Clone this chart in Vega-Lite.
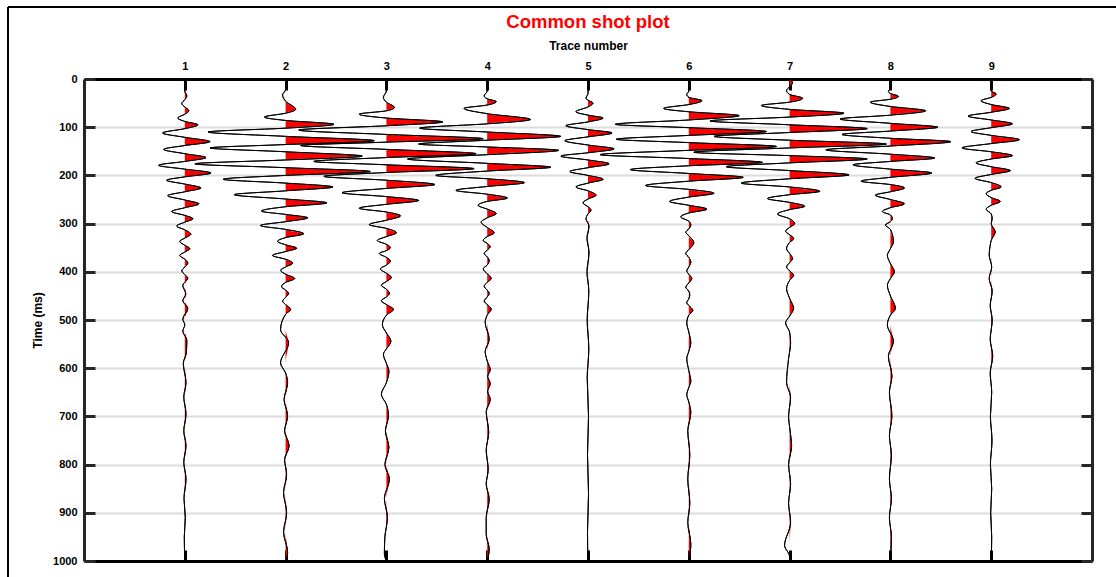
{
  "$schema": "https://vega.github.io/schema/vega-lite/v6.json",
  "width": 1008,
  "height": 482,
  "autosize": {"type": "none"},
  "padding": {"left": 84, "top": 79, "right": 24, "bottom": 16},
  "background": "white",
  "title": {"text": "Common shot plot", "color": "#ff0000", "font": "Liberation Sans", "fontSize": 18.5, "fontWeight": "bold", "anchor": "middle", "offset": -26},
  "config": {
    "view": {"stroke": null},
    "axis": {"labelFont": "Liberation Sans", "titleFont": "Liberation Sans", "labelFontWeight": "bold", "titleFontWeight": "bold", "labelFontSize": 11, "titleFontSize": 12, "labelColor": "black", "titleColor": "black"}
  },
  "datasets": {
    "traces": [
      {"tr":1,"t":0,"a":0},{"tr":1,"t":25,"a":0},{"tr":1,"t":35,"a":0.02},{"tr":1,"t":43,"a":0},{"tr":1,"t":51,"a":-0.03},{"tr":1,"t":58,"a":0},{"tr":1,"t":66,"a":0.04},{"tr":1,"t":73,"a":0},{"tr":1,"t":81,"a":-0.07},{"tr":1,"t":88,"a":0},{"tr":1,"t":95,"a":0.13},{"tr":1,"t":103,"a":0},{"tr":1,"t":112,"a":-0.22},{"tr":1,"t":121,"a":0},{"tr":1,"t":130,"a":0.25},{"tr":1,"t":138,"a":0},{"tr":1,"t":146,"a":-0.21},{"tr":1,"t":155,"a":0},{"tr":1,"t":163,"a":0.21},{"tr":1,"t":171,"a":0},{"tr":1,"t":179,"a":-0.26},{"tr":1,"t":187,"a":0},{"tr":1,"t":195,"a":0.26},{"tr":1,"t":203,"a":0},{"tr":1,"t":210,"a":-0.18},{"tr":1,"t":218,"a":0},{"tr":1,"t":226,"a":0.16},{"tr":1,"t":234,"a":0},{"tr":1,"t":242,"a":-0.17},{"tr":1,"t":251,"a":0},{"tr":1,"t":259,"a":0.14},{"tr":1,"t":267,"a":0},{"tr":1,"t":275,"a":-0.13},{"tr":1,"t":283,"a":0},{"tr":1,"t":290,"a":0.08},{"tr":1,"t":297,"a":0},{"tr":1,"t":305,"a":-0.08},{"tr":1,"t":313,"a":0},{"tr":1,"t":322,"a":0.06},{"tr":1,"t":330,"a":0},{"tr":1,"t":337,"a":-0.05},{"tr":1,"t":345,"a":0},{"tr":1,"t":352,"a":0.05},{"tr":1,"t":359,"a":0},{"tr":1,"t":366,"a":-0.05},{"tr":1,"t":374,"a":0},{"tr":1,"t":382,"a":0.03},{"tr":1,"t":390,"a":0},{"tr":1,"t":398,"a":-0.03},{"tr":1,"t":406,"a":0},{"tr":1,"t":413,"a":0.03},{"tr":1,"t":428,"a":-0.02},{"tr":1,"t":446,"a":0.01},{"tr":1,"t":460,"a":-0.02},{"tr":1,"t":476,"a":0.03},{"tr":1,"t":498,"a":-0.02},{"tr":1,"t":510,"a":0},{"tr":1,"t":523,"a":-0.02},{"tr":1,"t":542,"a":0.02},{"tr":1,"t":568,"a":0.015},{"tr":1,"t":590,"a":-0.015},{"tr":1,"t":630,"a":0.012},{"tr":1,"t":660,"a":-0.01},{"tr":1,"t":695,"a":0.012},{"tr":1,"t":730,"a":-0.01},{"tr":1,"t":761,"a":0.012},{"tr":1,"t":795,"a":-0.01},{"tr":1,"t":830,"a":0.012},{"tr":1,"t":870,"a":-0.008},{"tr":1,"t":910,"a":0.005},{"tr":1,"t":950,"a":-0.005},{"tr":1,"t":1000,"a":0},

      {"tr":2,"t":0,"a":0},{"tr":2,"t":22,"a":0},{"tr":2,"t":33,"a":-0.03},{"tr":2,"t":46,"a":0},{"tr":2,"t":63,"a":0.1},{"tr":2,"t":71,"a":0},{"tr":2,"t":79,"a":-0.21},{"tr":2,"t":86,"a":0},{"tr":2,"t":94,"a":0.48},{"tr":2,"t":102,"a":0},{"tr":2,"t":110,"a":-0.77},{"tr":2,"t":119,"a":0},{"tr":2,"t":128,"a":0.88},{"tr":2,"t":136,"a":0},{"tr":2,"t":143,"a":-0.75},{"tr":2,"t":151,"a":0},{"tr":2,"t":160,"a":0.76},{"tr":2,"t":168,"a":0},{"tr":2,"t":176,"a":-0.9},{"tr":2,"t":184,"a":0},{"tr":2,"t":192,"a":0.84},{"tr":2,"t":200,"a":0},{"tr":2,"t":208,"a":-0.62},{"tr":2,"t":216,"a":0},{"tr":2,"t":224,"a":0.47},{"tr":2,"t":232,"a":0},{"tr":2,"t":240,"a":-0.51},{"tr":2,"t":249,"a":0},{"tr":2,"t":257,"a":0.41},{"tr":2,"t":265,"a":0},{"tr":2,"t":274,"a":-0.24},{"tr":2,"t":281,"a":0},{"tr":2,"t":288,"a":0.22},{"tr":2,"t":296,"a":0},{"tr":2,"t":304,"a":-0.25},{"tr":2,"t":312,"a":0},{"tr":2,"t":321,"a":0.18},{"tr":2,"t":329,"a":0},{"tr":2,"t":337,"a":-0.08},{"tr":2,"t":344,"a":0},{"tr":2,"t":351,"a":0.11},{"tr":2,"t":358,"a":0},{"tr":2,"t":366,"a":-0.13},{"tr":2,"t":374,"a":0},{"tr":2,"t":382,"a":0.07},{"tr":2,"t":390,"a":0},{"tr":2,"t":397,"a":-0.05},{"tr":2,"t":405,"a":0},{"tr":2,"t":414,"a":0.09},{"tr":2,"t":422,"a":0},{"tr":2,"t":431,"a":-0.04},{"tr":2,"t":438,"a":0},{"tr":2,"t":445,"a":0.03},{"tr":2,"t":453,"a":0},{"tr":2,"t":461,"a":-0.03},{"tr":2,"t":468,"a":0},{"tr":2,"t":478,"a":0.05},{"tr":2,"t":488,"a":0},{"tr":2,"t":520,"a":-0.05},{"tr":2,"t":547,"a":0.03},{"tr":2,"t":589,"a":-0.05},{"tr":2,"t":610,"a":0},{"tr":2,"t":630,"a":0.02},{"tr":2,"t":665,"a":-0.015},{"tr":2,"t":699,"a":0.02},{"tr":2,"t":730,"a":-0.01},{"tr":2,"t":761,"a":0.035},{"tr":2,"t":790,"a":-0.01},{"tr":2,"t":820,"a":0.01},{"tr":2,"t":858,"a":-0.02},{"tr":2,"t":900,"a":0.01},{"tr":2,"t":940,"a":-0.02},{"tr":2,"t":982,"a":0.02},{"tr":2,"t":1000,"a":0},

      {"tr":3,"t":0,"a":0},{"tr":3,"t":25,"a":0},{"tr":3,"t":38,"a":-0.03},{"tr":3,"t":48,"a":0},{"tr":3,"t":59,"a":0.08},{"tr":3,"t":66,"a":0},{"tr":3,"t":73,"a":-0.27},{"tr":3,"t":81,"a":0},{"tr":3,"t":89,"a":0.56},{"tr":3,"t":97,"a":0},{"tr":3,"t":106,"a":-0.87},{"tr":3,"t":115,"a":0},{"tr":3,"t":124,"a":0.96},{"tr":3,"t":131,"a":0},{"tr":3,"t":138,"a":-0.85},{"tr":3,"t":146,"a":0},{"tr":3,"t":155,"a":0.89},{"tr":3,"t":163,"a":0},{"tr":3,"t":171,"a":-0.72},{"tr":3,"t":178,"a":0},{"tr":3,"t":186,"a":0.87},{"tr":3,"t":194,"a":0},{"tr":3,"t":202,"a":-0.62},{"tr":3,"t":210,"a":0},{"tr":3,"t":219,"a":0.48},{"tr":3,"t":227,"a":0},{"tr":3,"t":236,"a":-0.44},{"tr":3,"t":244,"a":0},{"tr":3,"t":252,"a":0.32},{"tr":3,"t":260,"a":0},{"tr":3,"t":268,"a":-0.27},{"tr":3,"t":276,"a":0},{"tr":3,"t":284,"a":0.14},{"tr":3,"t":293,"a":0},{"tr":3,"t":302,"a":-0.17},{"tr":3,"t":310,"a":0},{"tr":3,"t":319,"a":0.1},{"tr":3,"t":327,"a":0},{"tr":3,"t":335,"a":-0.09},{"tr":3,"t":343,"a":0},{"tr":3,"t":350,"a":0.04},{"tr":3,"t":356,"a":0},{"tr":3,"t":362,"a":-0.07},{"tr":3,"t":370,"a":0},{"tr":3,"t":378,"a":0.04},{"tr":3,"t":386,"a":0},{"tr":3,"t":394,"a":-0.06},{"tr":3,"t":403,"a":0},{"tr":3,"t":412,"a":0.05},{"tr":3,"t":420,"a":0},{"tr":3,"t":428,"a":-0.05},{"tr":3,"t":436,"a":0},{"tr":3,"t":445,"a":0.03},{"tr":3,"t":452,"a":0},{"tr":3,"t":460,"a":-0.05},{"tr":3,"t":468,"a":0},{"tr":3,"t":478,"a":0.07},{"tr":3,"t":490,"a":0},{"tr":3,"t":510,"a":-0.04},{"tr":3,"t":527,"a":0},{"tr":3,"t":544,"a":0.045},{"tr":3,"t":560,"a":0},{"tr":3,"t":571,"a":-0.03},{"tr":3,"t":590,"a":0},{"tr":3,"t":606,"a":0.025},{"tr":3,"t":630,"a":0},{"tr":3,"t":654,"a":-0.05},{"tr":3,"t":675,"a":0},{"tr":3,"t":699,"a":0.02},{"tr":3,"t":730,"a":-0.01},{"tr":3,"t":764,"a":0.025},{"tr":3,"t":800,"a":-0.015},{"tr":3,"t":830,"a":0.03},{"tr":3,"t":870,"a":-0.02},{"tr":3,"t":910,"a":0.01},{"tr":3,"t":950,"a":-0.015},{"tr":3,"t":985,"a":-0.02},{"tr":3,"t":1000,"a":0},

      {"tr":4,"t":0,"a":0},{"tr":4,"t":25,"a":0},{"tr":4,"t":35,"a":-0.03},{"tr":4,"t":41,"a":0},{"tr":4,"t":47,"a":0.09},{"tr":4,"t":54,"a":0},{"tr":4,"t":61,"a":-0.23},{"tr":4,"t":72,"a":0},{"tr":4,"t":84,"a":0.43},{"tr":4,"t":93,"a":0},{"tr":4,"t":102,"a":-0.67},{"tr":4,"t":110,"a":0},{"tr":4,"t":119,"a":0.73},{"tr":4,"t":127,"a":0},{"tr":4,"t":135,"a":-0.68},{"tr":4,"t":141,"a":0},{"tr":4,"t":148,"a":0.71},{"tr":4,"t":157,"a":0},{"tr":4,"t":166,"a":-0.79},{"tr":4,"t":175,"a":0},{"tr":4,"t":183,"a":0.63},{"tr":4,"t":191,"a":0},{"tr":4,"t":200,"a":-0.51},{"tr":4,"t":207,"a":0},{"tr":4,"t":215,"a":0.37},{"tr":4,"t":223,"a":0},{"tr":4,"t":231,"a":-0.31},{"tr":4,"t":239,"a":0},{"tr":4,"t":247,"a":0.2},{"tr":4,"t":254,"a":0},{"tr":4,"t":262,"a":-0.09},{"tr":4,"t":270,"a":0},{"tr":4,"t":279,"a":0.09},{"tr":4,"t":288,"a":0},{"tr":4,"t":297,"a":-0.06},{"tr":4,"t":308,"a":0},{"tr":4,"t":319,"a":0.07},{"tr":4,"t":327,"a":0},{"tr":4,"t":335,"a":-0.04},{"tr":4,"t":341,"a":0},{"tr":4,"t":348,"a":0.03},{"tr":4,"t":355,"a":0},{"tr":4,"t":362,"a":-0.03},{"tr":4,"t":369,"a":0},{"tr":4,"t":376,"a":0.02},{"tr":4,"t":386,"a":0},{"tr":4,"t":394,"a":-0.04},{"tr":4,"t":404,"a":0},{"tr":4,"t":414,"a":0.04},{"tr":4,"t":422,"a":0},{"tr":4,"t":430,"a":-0.03},{"tr":4,"t":438,"a":0},{"tr":4,"t":445,"a":0.02},{"tr":4,"t":452,"a":0},{"tr":4,"t":461,"a":-0.03},{"tr":4,"t":468,"a":0},{"tr":4,"t":477,"a":0.04},{"tr":4,"t":490,"a":0},{"tr":4,"t":505,"a":-0.02},{"tr":4,"t":540,"a":0.02},{"tr":4,"t":565,"a":-0.02},{"tr":4,"t":585,"a":0},{"tr":4,"t":603,"a":0.03},{"tr":4,"t":617,"a":0.005},{"tr":4,"t":632,"a":0.03},{"tr":4,"t":648,"a":0.005},{"tr":4,"t":665,"a":0.03},{"tr":4,"t":690,"a":-0.01},{"tr":4,"t":733,"a":0.015},{"tr":4,"t":770,"a":-0.01},{"tr":4,"t":810,"a":0.01},{"tr":4,"t":840,"a":-0.01},{"tr":4,"t":872,"a":0.02},{"tr":4,"t":910,"a":-0.01},{"tr":4,"t":945,"a":-0.01},{"tr":4,"t":975,"a":0.02},{"tr":4,"t":1000,"a":0},

      {"tr":5,"t":0,"a":0},{"tr":5,"t":30,"a":0},{"tr":5,"t":40,"a":-0.02},{"tr":5,"t":44,"a":0},{"tr":5,"t":50,"a":0.05},{"tr":5,"t":58,"a":0},{"tr":5,"t":68,"a":-0.12},{"tr":5,"t":75,"a":0},{"tr":5,"t":81,"a":0.15},{"tr":5,"t":89,"a":0},{"tr":5,"t":97,"a":-0.22},{"tr":5,"t":105,"a":0},{"tr":5,"t":112,"a":0.24},{"tr":5,"t":120,"a":0},{"tr":5,"t":128,"a":-0.23},{"tr":5,"t":137,"a":0},{"tr":5,"t":145,"a":0.26},{"tr":5,"t":153,"a":0},{"tr":5,"t":160,"a":-0.27},{"tr":5,"t":168,"a":0},{"tr":5,"t":176,"a":0.21},{"tr":5,"t":184,"a":0},{"tr":5,"t":192,"a":-0.18},{"tr":5,"t":200,"a":0},{"tr":5,"t":208,"a":0.15},{"tr":5,"t":216,"a":0},{"tr":5,"t":224,"a":-0.12},{"tr":5,"t":232,"a":0},{"tr":5,"t":241,"a":0.08},{"tr":5,"t":249,"a":0},{"tr":5,"t":257,"a":-0.05},{"tr":5,"t":265,"a":0},{"tr":5,"t":272,"a":0.03},{"tr":5,"t":280,"a":0},{"tr":5,"t":290,"a":-0.02},{"tr":5,"t":305,"a":0.01},{"tr":5,"t":330,"a":-0.01},{"tr":5,"t":360,"a":0.01},{"tr":5,"t":400,"a":-0.01},{"tr":5,"t":440,"a":0.008},{"tr":5,"t":500,"a":-0.008},{"tr":5,"t":560,"a":0.008},{"tr":5,"t":620,"a":-0.008},{"tr":5,"t":700,"a":0.005},{"tr":5,"t":780,"a":-0.005},{"tr":5,"t":860,"a":0.005},{"tr":5,"t":940,"a":-0.005},{"tr":5,"t":1000,"a":0},

      {"tr":6,"t":0,"a":0},{"tr":6,"t":25,"a":0},{"tr":6,"t":32,"a":-0.02},{"tr":6,"t":38,"a":0},{"tr":6,"t":45,"a":0.13},{"tr":6,"t":53,"a":0},{"tr":6,"t":61,"a":-0.25},{"tr":6,"t":68,"a":0},{"tr":6,"t":76,"a":0.5},{"tr":6,"t":85,"a":0},{"tr":6,"t":94,"a":-0.73},{"tr":6,"t":101,"a":0},{"tr":6,"t":109,"a":0.77},{"tr":6,"t":117,"a":0},{"tr":6,"t":125,"a":-0.72},{"tr":6,"t":132,"a":0},{"tr":6,"t":140,"a":0.87},{"tr":6,"t":148,"a":0},{"tr":6,"t":157,"a":-0.88},{"tr":6,"t":165,"a":0},{"tr":6,"t":173,"a":0.73},{"tr":6,"t":180,"a":0},{"tr":6,"t":188,"a":-0.58},{"tr":6,"t":196,"a":0},{"tr":6,"t":204,"a":0.54},{"tr":6,"t":212,"a":0},{"tr":6,"t":221,"a":-0.43},{"tr":6,"t":229,"a":0},{"tr":6,"t":237,"a":0.25},{"tr":6,"t":245,"a":0},{"tr":6,"t":254,"a":-0.19},{"tr":6,"t":262,"a":0},{"tr":6,"t":270,"a":0.18},{"tr":6,"t":278,"a":0},{"tr":6,"t":286,"a":-0.08},{"tr":6,"t":295,"a":0},{"tr":6,"t":303,"a":0.02},{"tr":6,"t":311,"a":0},{"tr":6,"t":318,"a":-0.03},{"tr":6,"t":325,"a":0},{"tr":6,"t":340,"a":0.05},{"tr":6,"t":354,"a":0},{"tr":6,"t":362,"a":-0.03},{"tr":6,"t":370,"a":0},{"tr":6,"t":380,"a":0.02},{"tr":6,"t":390,"a":0},{"tr":6,"t":398,"a":-0.02},{"tr":6,"t":405,"a":0},{"tr":6,"t":414,"a":0.03},{"tr":6,"t":423,"a":0},{"tr":6,"t":432,"a":-0.03},{"tr":6,"t":440,"a":0},{"tr":6,"t":448,"a":0.01},{"tr":6,"t":456,"a":0},{"tr":6,"t":464,"a":-0.02},{"tr":6,"t":470,"a":0},{"tr":6,"t":480,"a":0.04},{"tr":6,"t":490,"a":0},{"tr":6,"t":506,"a":-0.02},{"tr":6,"t":525,"a":0},{"tr":6,"t":547,"a":0.02},{"tr":6,"t":565,"a":0},{"tr":6,"t":580,"a":-0.02},{"tr":6,"t":605,"a":0},{"tr":6,"t":627,"a":0.02},{"tr":6,"t":640,"a":0},{"tr":6,"t":655,"a":-0.02},{"tr":6,"t":670,"a":0},{"tr":6,"t":692,"a":0.02},{"tr":6,"t":730,"a":-0.01},{"tr":6,"t":780,"a":0.01},{"tr":6,"t":830,"a":-0.01},{"tr":6,"t":880,"a":0.01},{"tr":6,"t":920,"a":-0.01},{"tr":6,"t":965,"a":0.02},{"tr":6,"t":1000,"a":0},

      {"tr":7,"t":0,"a":0},{"tr":7,"t":8,"a":0.03},{"tr":7,"t":16,"a":0},{"tr":7,"t":24,"a":-0.03},{"tr":7,"t":32,"a":0},{"tr":7,"t":40,"a":0.13},{"tr":7,"t":48,"a":0},{"tr":7,"t":55,"a":-0.28},{"tr":7,"t":63,"a":0},{"tr":7,"t":71,"a":0.54},{"tr":7,"t":79,"a":0},{"tr":7,"t":87,"a":-0.79},{"tr":7,"t":95,"a":0},{"tr":7,"t":103,"a":0.77},{"tr":7,"t":111,"a":0},{"tr":7,"t":119,"a":-0.75},{"tr":7,"t":127,"a":0},{"tr":7,"t":135,"a":0.96},{"tr":7,"t":143,"a":0},{"tr":7,"t":152,"a":-0.95},{"tr":7,"t":159,"a":0},{"tr":7,"t":166,"a":0.77},{"tr":7,"t":174,"a":0},{"tr":7,"t":182,"a":-0.63},{"tr":7,"t":190,"a":0},{"tr":7,"t":199,"a":0.59},{"tr":7,"t":207,"a":0},{"tr":7,"t":216,"a":-0.48},{"tr":7,"t":224,"a":0},{"tr":7,"t":233,"a":0.3},{"tr":7,"t":240,"a":0},{"tr":7,"t":248,"a":-0.22},{"tr":7,"t":256,"a":0},{"tr":7,"t":264,"a":0.15},{"tr":7,"t":271,"a":0},{"tr":7,"t":280,"a":-0.12},{"tr":7,"t":290,"a":0},{"tr":7,"t":300,"a":0.05},{"tr":7,"t":308,"a":0},{"tr":7,"t":316,"a":-0.04},{"tr":7,"t":323,"a":0},{"tr":7,"t":331,"a":0.04},{"tr":7,"t":339,"a":0},{"tr":7,"t":352,"a":-0.03},{"tr":7,"t":362,"a":0},{"tr":7,"t":373,"a":0.03},{"tr":7,"t":381,"a":0},{"tr":7,"t":390,"a":-0.03},{"tr":7,"t":398,"a":0},{"tr":7,"t":407,"a":0.04},{"tr":7,"t":418,"a":0},{"tr":7,"t":435,"a":-0.03},{"tr":7,"t":455,"a":0},{"tr":7,"t":476,"a":0.04},{"tr":7,"t":492,"a":0},{"tr":7,"t":506,"a":-0.04},{"tr":7,"t":525,"a":0},{"tr":7,"t":547,"a":0.01},{"tr":7,"t":580,"a":-0.01},{"tr":7,"t":630,"a":-0.03},{"tr":7,"t":660,"a":0.01},{"tr":7,"t":700,"a":-0.01},{"tr":7,"t":730,"a":0.005},{"tr":7,"t":761,"a":0.02},{"tr":7,"t":800,"a":-0.01},{"tr":7,"t":840,"a":0.01},{"tr":7,"t":880,"a":-0.01},{"tr":7,"t":920,"a":0.01},{"tr":7,"t":968,"a":-0.05},{"tr":7,"t":990,"a":0},{"tr":7,"t":1000,"a":0},

      {"tr":8,"t":0,"a":0},{"tr":8,"t":20,"a":0},{"tr":8,"t":26,"a":-0.02},{"tr":8,"t":30,"a":0},{"tr":8,"t":36,"a":0.08},{"tr":8,"t":42,"a":0},{"tr":8,"t":48,"a":-0.2},{"tr":8,"t":57,"a":0},{"tr":8,"t":66,"a":0.35},{"tr":8,"t":75,"a":0},{"tr":8,"t":83,"a":-0.5},{"tr":8,"t":92,"a":0},{"tr":8,"t":100,"a":0.47},{"tr":8,"t":108,"a":0},{"tr":8,"t":115,"a":-0.48},{"tr":8,"t":123,"a":0},{"tr":8,"t":130,"a":0.6},{"tr":8,"t":139,"a":0},{"tr":8,"t":147,"a":-0.64},{"tr":8,"t":156,"a":0},{"tr":8,"t":164,"a":0.44},{"tr":8,"t":171,"a":0},{"tr":8,"t":178,"a":-0.37},{"tr":8,"t":187,"a":0},{"tr":8,"t":195,"a":0.41},{"tr":8,"t":204,"a":0},{"tr":8,"t":212,"a":-0.29},{"tr":8,"t":219,"a":0},{"tr":8,"t":226,"a":0.14},{"tr":8,"t":234,"a":0},{"tr":8,"t":241,"a":-0.15},{"tr":8,"t":250,"a":0},{"tr":8,"t":259,"a":0.14},{"tr":8,"t":267,"a":0},{"tr":8,"t":275,"a":-0.08},{"tr":8,"t":282,"a":0},{"tr":8,"t":290,"a":0.02},{"tr":8,"t":296,"a":0},{"tr":8,"t":303,"a":-0.05},{"tr":8,"t":312,"a":0},{"tr":8,"t":338,"a":0.03},{"tr":8,"t":352,"a":0},{"tr":8,"t":366,"a":-0.03},{"tr":8,"t":383,"a":0},{"tr":8,"t":400,"a":0.04},{"tr":8,"t":414,"a":0},{"tr":8,"t":428,"a":-0.03},{"tr":8,"t":450,"a":0},{"tr":8,"t":476,"a":0.05},{"tr":8,"t":490,"a":0},{"tr":8,"t":510,"a":-0.03},{"tr":8,"t":544,"a":0.03},{"tr":8,"t":575,"a":-0.02},{"tr":8,"t":616,"a":0.015},{"tr":8,"t":650,"a":-0.01},{"tr":8,"t":699,"a":0.015},{"tr":8,"t":740,"a":-0.01},{"tr":8,"t":780,"a":0.01},{"tr":8,"t":830,"a":-0.01},{"tr":8,"t":870,"a":0.01},{"tr":8,"t":910,"a":-0.01},{"tr":8,"t":950,"a":0.01},{"tr":8,"t":1000,"a":0},

      {"tr":9,"t":0,"a":0},{"tr":9,"t":25,"a":0},{"tr":9,"t":31,"a":0.05},{"tr":9,"t":38,"a":0},{"tr":9,"t":45,"a":-0.1},{"tr":9,"t":53,"a":0},{"tr":9,"t":61,"a":0.18},{"tr":9,"t":69,"a":0},{"tr":9,"t":77,"a":-0.23},{"tr":9,"t":85,"a":0},{"tr":9,"t":93,"a":0.21},{"tr":9,"t":101,"a":0},{"tr":9,"t":109,"a":-0.2},{"tr":9,"t":117,"a":0},{"tr":9,"t":126,"a":0.28},{"tr":9,"t":134,"a":0},{"tr":9,"t":143,"a":-0.29},{"tr":9,"t":151,"a":0},{"tr":9,"t":159,"a":0.21},{"tr":9,"t":166,"a":0},{"tr":9,"t":174,"a":-0.15},{"tr":9,"t":182,"a":0},{"tr":9,"t":190,"a":0.19},{"tr":9,"t":198,"a":0},{"tr":9,"t":206,"a":-0.16},{"tr":9,"t":215,"a":0},{"tr":9,"t":224,"a":0.1},{"tr":9,"t":231,"a":0},{"tr":9,"t":238,"a":-0.05},{"tr":9,"t":246,"a":0},{"tr":9,"t":254,"a":0.09},{"tr":9,"t":262,"a":0},{"tr":9,"t":270,"a":-0.05},{"tr":9,"t":280,"a":0},{"tr":9,"t":290,"a":0.01},{"tr":9,"t":300,"a":0},{"tr":9,"t":317,"a":0.04},{"tr":9,"t":335,"a":0},{"tr":9,"t":345,"a":-0.01},{"tr":9,"t":365,"a":-0.02},{"tr":9,"t":390,"a":0.005},{"tr":9,"t":414,"a":-0.02},{"tr":9,"t":440,"a":0.01},{"tr":9,"t":470,"a":-0.01},{"tr":9,"t":500,"a":0.01},{"tr":9,"t":540,"a":-0.01},{"tr":9,"t":575,"a":0.015},{"tr":9,"t":610,"a":-0.01},{"tr":9,"t":650,"a":0.005},{"tr":9,"t":700,"a":-0.008},{"tr":9,"t":750,"a":0.008},{"tr":9,"t":800,"a":-0.008},{"tr":9,"t":850,"a":0.005},{"tr":9,"t":900,"a":-0.005},{"tr":9,"t":950,"a":0.005},{"tr":9,"t":1000,"a":0}
    ]
  },
  "layer": [
    {
      "data": {"name": "traces"},
      "transform": [{"calculate": "datum.tr + max(datum.a, 0)", "as": "xp"}],
      "mark": {"type": "area", "orient": "horizontal", "interpolate": "monotone", "fill": "#ff0000", "stroke": null},
      "encoding": {
        "y": {"field": "t", "type": "quantitative", "scale": {"domain": [0, 1000], "reverse": true, "nice": false, "zero": false},
              "axis": {"orient": "left", "values": [0,100,200,300,400,500,600,700,800,900,1000], "format": "d", "title": "Time (ms)", "grid": true, "gridColor": "#dcdcdc", "gridWidth": 2, "tickSize": -11, "tickWidth": 3, "tickColor": "#262626", "domainColor": "#262626", "domainWidth": 3, "labelPadding": 18, "titlePadding": 8}},
        "x": {"field": "xp", "type": "quantitative", "stack": null, "scale": {"domain": [0, 10], "nice": false, "zero": false},
              "axis": {"orient": "top", "values": [1,2,3,4,5,6,7,8,9], "format": "d", "title": "Trace number", "grid": false, "tickSize": -11, "tickWidth": 3, "tickColor": "black", "domainColor": "black", "domainWidth": 3, "labelPadding": 19, "titlePadding": 8}},
        "x2": {"field": "tr"},
        "detail": {"field": "tr", "type": "nominal"}
      }
    },
    {
      "data": {"name": "traces"},
      "transform": [{"calculate": "datum.tr + datum.a", "as": "xw"}],
      "mark": {"type": "area", "orient": "horizontal", "interpolate": "monotone", "fillOpacity": 0, "stroke": "black", "strokeWidth": 1},
      "encoding": {
        "y": {"field": "t", "type": "quantitative",
              "axis": {"orient": "right", "values": [0,100,200,300,400,500,600,700,800,900,1000], "labels": false, "title": null, "grid": false, "tickSize": -11, "tickWidth": 3, "tickColor": "#262626", "domainColor": "#262626", "domainWidth": 3}},
        "x": {"field": "xw", "type": "quantitative", "stack": null,
              "axis": {"orient": "bottom", "values": [1,2,3,4,5,6,7,8,9], "labels": false, "title": null, "grid": false, "tickSize": -11, "tickWidth": 3, "tickColor": "black", "domainColor": "black", "domainWidth": 3}},
        "x2": {"field": "xw"},
        "detail": {"field": "tr", "type": "nominal"}
      }
    },
    {
      "data": {"values": [{}]},
      "mark": {"type": "rule", "color": "black", "strokeWidth": 2},
      "encoding": {
        "y": {"datum": -149.4, "axis": null},
        "x": {"datum": -0.754, "axis": null},
        "x2": {"datum": 10.5}
      }
    },
    {
      "data": {"values": [{}]},
      "mark": {"type": "rule", "color": "black", "strokeWidth": 2},
      "encoding": {
        "x": {"datum": -0.754, "axis": null},
        "y": {"datum": -149.4, "axis": null},
        "y2": {"datum": 1050}
      }
    }
  ],
  "resolve": {"axis": {"x": "independent", "y": "independent"}}
}
